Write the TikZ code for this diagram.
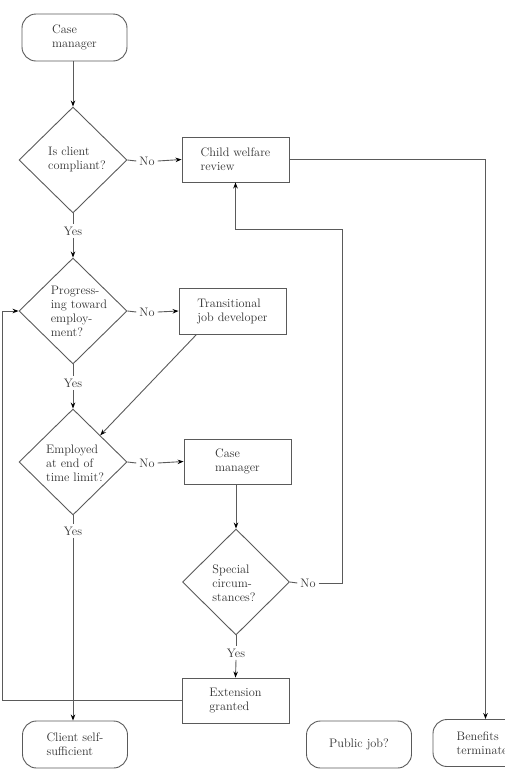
\documentclass[tikz,border=0pt]{standalone}
\usetikzlibrary{shapes.geometric,arrows.meta}
\definecolor{lncol}{HTML}{5A5A5A}
\definecolor{txcol}{HTML}{303030}
\begin{document}
\begin{tikzpicture}[x=1pt,y=-1pt,
  font=\fontsize{12.3}{14}\selectfont, text=txcol,
  box/.style={draw=lncol, line width=0.9pt, rectangle, minimum width=107pt, minimum height=46pt, align=left, inner sep=0pt},
  term/.style={box, rounded corners=14pt, minimum width=105pt, minimum height=47pt},
  dec/.style={draw=lncol, line width=0.9pt, diamond, minimum width=108pt, minimum height=106pt, inner sep=0pt},
  dtext/.style={align=left, inner sep=0pt},
  lab/.style={inner sep=3pt},
  ln/.style={draw=lncol, line width=0.9pt},
  arr/.style={ln, -{Stealth[length=6pt,width=4.5pt,black]}},
]
\useasboundingbox (0,0) rectangle (505,777);
\clip (0,0) rectangle (505,777);

% nodes
\node[term] (cm1) at (74.5,37.5) {Case\\manager};
\node[dec] (d1) at (73,160) {};
\node[dtext] at (77,159) {Is client\\compliant?};
\node[box, minimum height=45pt] (cw) at (235.5,159.5) {Child welfare\\review};
\node[dec] (d2) at (73,311) {};
\node[dtext] at (79,311) {Progress-\\ing toward\\employ-\\ment?};
\node[box] (tj) at (232.5,311) {Transitional\\job developer};
\node[dec] (d3) at (73,462) {};
\node[dtext] at (75,463) {Employed\\at end of\\time limit?};
\node[box, minimum height=45pt] (cm2) at (237.5,461.5) {Case\\manager};
\node[dec, minimum width=107pt] (d4) at (236,582) {};
\node[dtext] at (234,583) {Special\\circum-\\stances?};
\node[box, minimum height=45pt] (ext) at (235.5,700.5) {Extension\\granted};
\node[term] (cs) at (75,744.5) {Client self-\\sufficient};
\node[term] (pj) at (359,744.5) {Public job?};
\node[term] (bt) at (485.5,743) {Benefits\\terminated};

% labels
\node[lab] (no1) at (147,161) {No};
\node[lab] (no2) at (147,312) {No};
\node[lab] (no3) at (147,463) {No};
\node[lab] (no4) at (308,583) {No};
\node[lab, inner sep=2.5pt] (y1) at (73,231) {Yes};
\node[lab, inner sep=2.5pt] (y2) at (73,383) {Yes};
\node[lab, inner sep=2.5pt] (y3) at (73,531) {Yes};
\node[lab, inner sep=2.5pt] (y4) at (236,653) {Yes};

\coordinate (k1) at (342,229);
\coordinate (k2) at (2,701);

% connectors
\draw[arr] (d1.north |- cm1.south) -- (d1.north);
\draw[ln] (d1.east) -- (no1.west);
\draw[arr] (no1.east) -- (cw.west);
\draw[ln] (d1.south) -- (y1.north);
\draw[arr] (y1.south) -- (d2.north);
\draw[ln] (d2.east) -- (no2.west);
\draw[arr] (no2.east) -- (tj.west);
\draw[arr] ([xshift=18pt]tj.south west) -- (d3.north east);
\draw[ln] (d2.south) -- (y2.north);
\draw[arr] (y2.south) -- (d3.north);
\draw[ln] (d3.east) -- (no3.west);
\draw[arr] (no3.east) -- (cm2.west);
\draw[arr] (d4.north |- cm2.south) -- (d4.north);
\draw[ln] (d4.east) -- (no4.west);
\draw[arr] (no4.east) -- (no4.east -| k1) -- (k1) -| (cw.south);
\draw[ln] (d4.south) -- (y4.north);
\draw[arr] (y4.south) -- (ext.north);
\draw[arr] (ext.west) -- (ext.west -| k2) |- (d2.west);
\draw[ln] (d3.south) -- (y3.north);
\draw[arr] (y3.south) -- (y3.south |- cs.north);
\draw[arr] (cw.east) -- (cw.east -| bt.north) -- (bt.north);
\end{tikzpicture}
\end{document}
